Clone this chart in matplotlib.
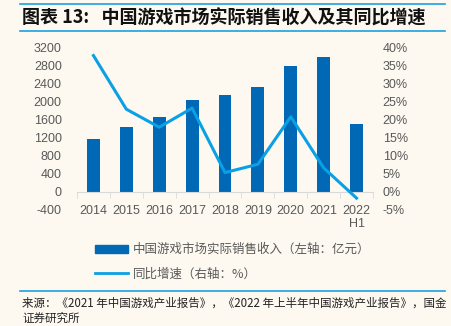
import numpy as np
import matplotlib.pyplot as plt
from matplotlib.lines import Line2D
from matplotlib.patches import Patch

plt.rcParams['font.family'] = ['Liberation Sans', 'Noto Sans CJK SC', 'DejaVu Sans']
plt.rcParams['axes.unicode_minus'] = False

# 中国游戏市场实际销售收入（亿元）及同比增速（%）
years = ['2014', '2015', '2016', '2017', '2018', '2019', '2020', '2021', '2022\nH1']
revenue = [1170, 1440, 1675, 2045, 2160, 2340, 2800, 2990, 1510]
growth = [37.9, 23.0, 18.0, 23.3, 5.4, 7.7, 20.9, 6.7, -1.7]

bg = '#FDF9F0'
bar_c = '#0068B5'
line_c = '#0AA0E6'
grey = '#595959'
cjk = ['Noto Sans CJK SC', 'DejaVu Sans']

fig = plt.figure(figsize=(4.51, 3.26), dpi=100, facecolor=bg)
ax = fig.add_axes([77/451, 1-210/326, 296/451, 162/326])
ax.set_facecolor(bg)
x = np.arange(len(years))
ax.bar(x, revenue, width=0.39, color=bar_c, zorder=2)
ax.set_xlim(-0.5, len(years)-0.5)
ax.set_ylim(-400, 3200)
ax.set_yticks(np.arange(-400, 3201, 400))
ax.tick_params(axis='y', length=0, labelsize=9, colors=grey, pad=11)
for s in ['left', 'right', 'top']:
    ax.spines[s].set_visible(False)
ax.spines['bottom'].set_position(('data', 0))
ax.spines['bottom'].set_color('#D9D9D9')
ax.set_xticks(x)
ax.set_xticklabels(years)
ax.set_xticks(np.arange(-0.5, len(years), 1), minor=True)
ax.tick_params(axis='x', which='major', length=0, labelsize=9, colors=grey, pad=9)
ax.tick_params(axis='x', which='minor', length=4, color='#D9D9D9', direction='out')

ax2 = ax.twinx()
ax2.plot(x, growth, color=line_c, lw=2.2, zorder=3)
ax2.set_ylim(-5, 40)
ax2.set_yticks(np.arange(-5, 41, 5))
ax2.set_yticklabels([f'{v}%' for v in range(-5, 41, 5)])
ax2.tick_params(axis='y', length=0, labelsize=9, colors=grey, pad=7)
for s in ax2.spines.values():
    s.set_visible(False)

# 标题与上下分隔线
fig.add_artist(Line2D([20/451, 445/451], [1-4/326, 1-4/326], color='#1BA1E2', lw=1.2))
fig.add_artist(Line2D([20/451, 445/451], [1-31/326, 1-31/326], color='#1BA1E2', lw=1.2))
fig.text(22/451, 1-18/326, '图表 13:   中国游戏市场实际销售收入及其同比增速', fontsize=13,
         fontweight='bold', va='center', ha='left', color='#111111', family=cjk)

# 图例
handles = [Patch(color=bar_c), Line2D([0], [0], color=line_c, lw=2)]
labels = ['中国游戏市场实际销售收入（左轴：亿元）', '同比增速（右轴：%）']
fig.legend(handles, labels, loc='upper left', bbox_to_anchor=(84/451, 1-232/326),
           frameon=False, labelcolor=grey, handlelength=2.6,
           handleheight=0.6, labelspacing=0.9, handletextpad=0.4,
           prop={'family': cjk, 'size': 9})

fig.add_artist(Line2D([20/451, 445/451], [1-291/326, 1-291/326], color='#1BA1E2', lw=1.2))
fig.text(22/451, 1-303/326, '来源：《2021 年中国游戏产业报告》，《2022 年上半年中国游戏产业报告》，国金',
         fontsize=8.3, va='center', ha='left', color='#222222', family=cjk)
fig.text(22/451, 1-318/326, '证券研究所', fontsize=8.3, va='center', ha='left', color='#222222',
         family=cjk)

fig.savefig('out.png', dpi=100, facecolor=bg)
